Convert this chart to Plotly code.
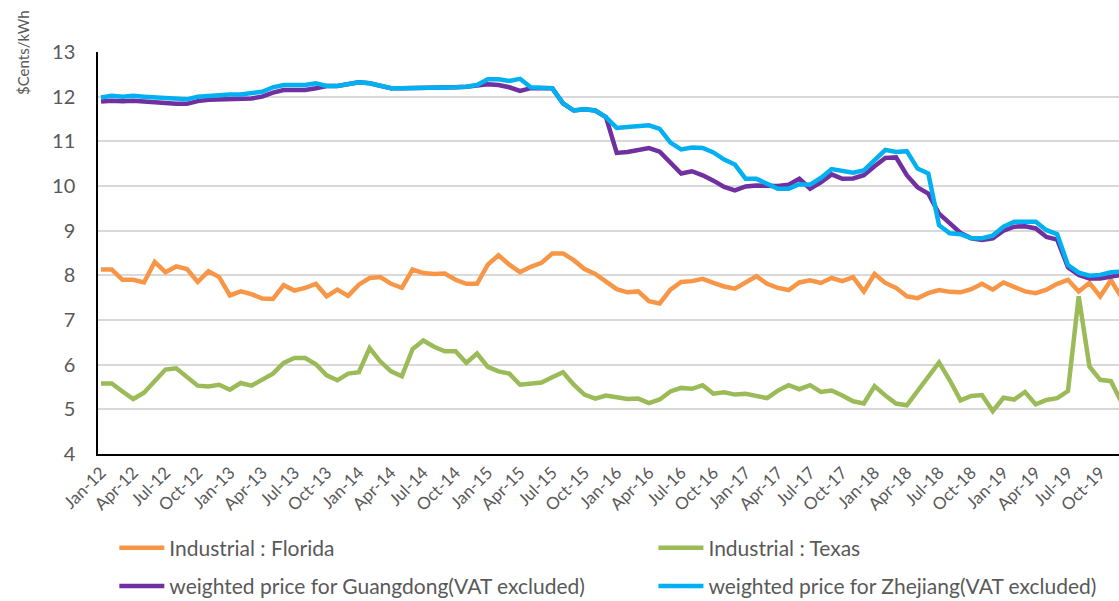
import pandas as pd
import plotly.graph_objects as go

months = list(pd.date_range("2012-01-01", periods=96, freq="MS").strftime("%b-%y"))
tick_labels = months[::3]

florida = [8.13, 8.13, 7.90, 7.90, 7.84, 8.30, 8.07, 8.20, 8.14, 7.85, 8.09, 7.96,
           7.55, 7.64, 7.58, 7.48, 7.47, 7.78, 7.66, 7.72, 7.81, 7.53, 7.68, 7.54,
           7.79, 7.94, 7.96, 7.81, 7.72, 8.13, 8.05, 8.03, 8.04, 7.90, 7.81, 7.81,
           8.24, 8.45, 8.24, 8.07, 8.19, 8.28, 8.49, 8.49, 8.34, 8.14, 8.03, 7.85,
           7.69, 7.62, 7.64, 7.42, 7.37, 7.68, 7.85, 7.87, 7.92, 7.83, 7.75, 7.70,
           7.84, 7.98, 7.81, 7.72, 7.67, 7.84, 7.89, 7.83, 7.94, 7.87, 7.96, 7.64,
           8.03, 7.83, 7.72, 7.53, 7.49, 7.60, 7.67, 7.63, 7.62, 7.69, 7.81, 7.68,
           7.84, 7.74, 7.64, 7.60, 7.68, 7.81, 7.90, 7.64, 7.83, 7.53, 7.89, 7.50]

texas = [5.58, 5.58, 5.40, 5.23, 5.37, 5.63, 5.89, 5.92, 5.72, 5.53, 5.51, 5.55,
         5.44, 5.59, 5.53, 5.66, 5.80, 6.04, 6.15, 6.15, 6.01, 5.76, 5.65, 5.80,
         5.83, 6.37, 6.07, 5.85, 5.74, 6.35, 6.54, 6.40, 6.30, 6.30, 6.04, 6.25,
         5.95, 5.85, 5.80, 5.55, 5.57, 5.60, 5.72, 5.83, 5.55, 5.33, 5.24, 5.31,
         5.27, 5.23, 5.24, 5.14, 5.22, 5.40, 5.48, 5.46, 5.54, 5.35, 5.38, 5.33,
         5.35, 5.31, 5.25, 5.42, 5.54, 5.45, 5.54, 5.39, 5.42, 5.31, 5.18, 5.13,
         5.52, 5.31, 5.13, 5.09, 5.42, 5.74, 6.05, 5.65, 5.20, 5.30, 5.32, 4.96,
         5.26, 5.22, 5.39, 5.11, 5.21, 5.25, 5.41, 7.53, 5.96, 5.66, 5.63, 5.15]

guangdong = [11.89, 11.91, 11.90, 11.91, 11.89, 11.87, 11.87, 11.84, 11.84, 11.90, 11.93, 11.94,
             11.95, 11.95, 11.96, 12.00, 12.09, 12.15, 12.15, 12.15, 12.19, 12.24, 12.24, 12.28,
             12.32, 12.30, 12.24, 12.19, 12.19, 12.19, 12.19, 12.19, 12.21, 12.21, 12.22, 12.26,
             12.28, 12.26, 12.21, 12.13, 12.19, 12.19, 12.19, 11.85, 11.69, 11.72, 11.69, 11.54,
             10.74, 10.76, 10.80, 10.85, 10.77, 10.53, 10.28, 10.33, 10.24, 10.12, 9.98, 9.90,
             9.99, 10.01, 10.01, 10.00, 10.03, 10.16, 9.94, 10.08, 10.26, 10.16, 10.17, 10.24,
             10.44, 10.63, 10.64, 10.24, 9.97, 9.83, 9.38, 9.16, 8.95, 8.83, 8.79, 8.83,
             9.00, 9.09, 9.10, 9.05, 8.86, 8.80, 8.18, 8.01, 7.93, 7.93, 7.97, 8.01]

zhejiang = [11.98, 12.02, 12.00, 12.02, 12.00, 11.98, 11.98, 11.94, 11.94, 12.00, 12.02, 12.04,
            12.05, 12.05, 12.07, 12.11, 12.21, 12.26, 12.26, 12.26, 12.30, 12.24, 12.24, 12.28,
            12.32, 12.30, 12.24, 12.19, 12.19, 12.19, 12.19, 12.19, 12.21, 12.21, 12.22, 12.26,
            12.39, 12.39, 12.35, 12.40, 12.21, 12.19, 12.19, 11.85, 11.69, 11.72, 11.69, 11.54,
            11.30, 11.32, 11.33, 11.36, 11.28, 10.97, 10.82, 10.86, 10.85, 10.75, 10.59, 10.48,
            10.16, 10.16, 10.05, 9.94, 9.94, 10.04, 10.03, 10.18, 10.38, 10.33, 10.30, 10.35,
            10.58, 10.81, 10.76, 10.78, 10.39, 10.28, 9.12, 8.94, 8.92, 8.83, 8.83, 8.89,
            9.09, 9.20, 9.20, 9.20, 9.01, 8.92, 8.23, 8.06, 7.99, 8.01, 8.07, 8.08]

series = [
    ("Industrial : Florida", florida, "#F79646", "legend", "g1"),
    ("Industrial : Texas", texas, "#9BBB59", "legend2", "g2"),
    ("weighted price for Guangdong(VAT excluded)", guangdong, "#7030A0", "legend", "g3"),
    ("weighted price for Zhejiang(VAT excluded)", zhejiang, "#00B0F0", "legend2", "g4"),
]

fig = go.Figure()
for name, vals, color, leg, grp in series:
    fig.add_trace(go.Scatter(
        x=months, y=vals, mode="lines", name=name,
        line=dict(color=color, width=4.5),
        legend=leg, legendgroup=grp,
    ))

font_family = "Lato, 'Open Sans', sans-serif"
grey = "#595959"

legend_common = dict(
    xanchor="left", yanchor="top", orientation="v", tracegroupgap=8,
    font=dict(size=21, color=grey, family=font_family),
    bgcolor="rgba(0,0,0,0)", itemwidth=45,
)

fig.update_layout(
    width=1119, height=601,
    margin=dict(l=98, r=0, t=52, b=147, autoexpand=False),
    paper_bgcolor="white", plot_bgcolor="white",
    font=dict(family=font_family, color=grey),
    xaxis=dict(
        type="category", range=[-0.28, 94.75], automargin=False,
        tickmode="array", tickvals=tick_labels, ticktext=tick_labels,
        tickangle=-45, tickfont=dict(size=17, color=grey),
        showgrid=False, showline=True, linecolor="black", linewidth=2,
        ticks="", zeroline=False,
    ),
    yaxis=dict(
        range=[4, 13], dtick=1, tickfont=dict(size=20, color=grey), automargin=False,
        showgrid=True, gridcolor="#d9d9d9", gridwidth=1.5,
        showline=True, linecolor="black", linewidth=1.5,
        ticks="", zeroline=False, ticklabelstandoff=17,
    ),
    legend=dict(x=0.016, y=-0.183, **legend_common),
    legend2=dict(x=0.544, y=-0.183, **legend_common),
    annotations=[dict(
        text="$Cents/kWh", xref="paper", yref="paper",
        x=-0.0735, y=1.0, xanchor="center", yanchor="middle",
        textangle=-90, showarrow=False,
        font=dict(size=15, color=grey, family=font_family),
    )],
)

fig.write_html(
    "out.html",
    config={"displayModeBar": False},
    post_script="document.body.style.margin='0';document.body.style.overflow='hidden';",
)
